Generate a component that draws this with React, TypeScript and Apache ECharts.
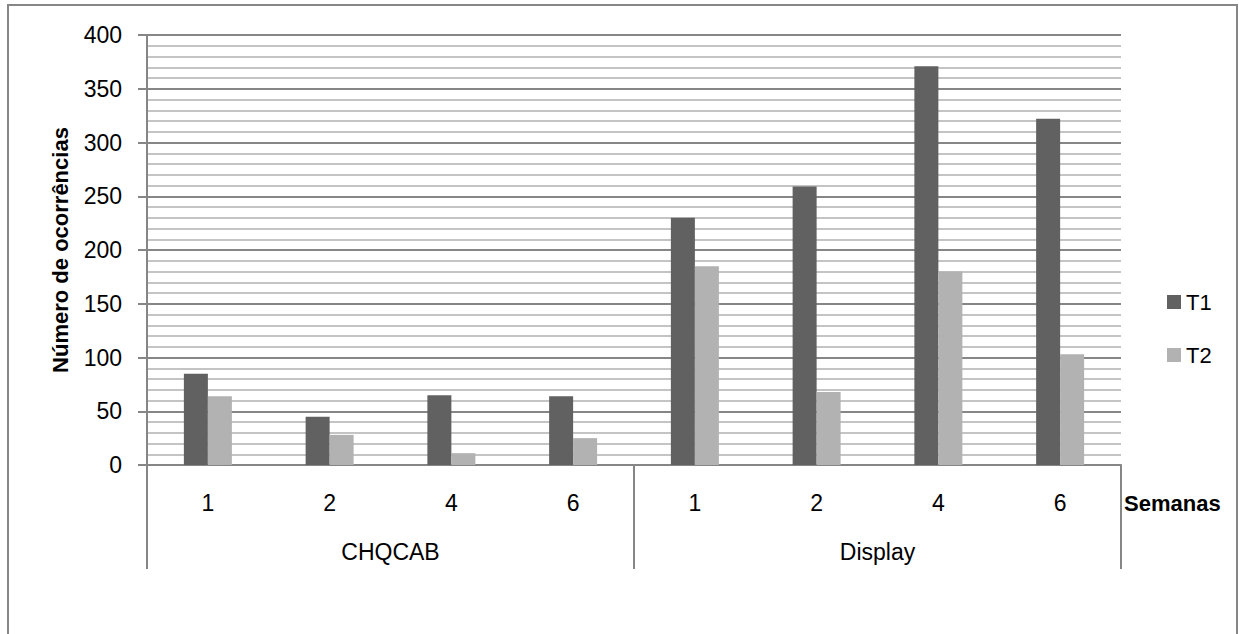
import React, { useEffect, useRef } from "react";
import * as echarts from "echarts";

const weeks = ["1", "2", "4", "6", "1", "2", "4", "6"];
const groups = ["CHQCAB", "Display"];
const t1Values = [85, 45, 65, 64, 230, 259, 371, 322];
const t2Values = [64, 28, 11, 25, 185, 68, 180, 103];
const seriesNames = ["T1", "T2"];

const FONT = "'Liberation Sans', Arial, sans-serif";
const AXIS_GRAY = "#868686";

export default function App() {
  const ref = useRef<HTMLDivElement>(null);
  useEffect(() => {
    if (!ref.current) return;
    const chart = echarts.init(ref.current, undefined, { renderer: "svg" });
    chart.setOption({
      animation: false,
      backgroundColor: "#ffffff",
      textStyle: { fontFamily: FONT },
      grid: { left: 147, right: 118, top: 35, bottom: 169, containLabel: false },
      legend: {
        orient: "vertical",
        left: 1162,
        top: 286,
        itemWidth: 14,
        itemHeight: 14,
        itemGap: 31,
        icon: "rect",
        textStyle: { fontFamily: FONT, fontSize: 22, color: "#000" },
        data: seriesNames,
      },
      xAxis: [
        {
          type: "category",
          data: weeks,
          position: "bottom",
          name: "Semanas",
          nameLocation: "end",
          nameGap: 3,
          nameTextStyle: {
            fontFamily: FONT,
            fontSize: 22,
            fontWeight: "bold",
            color: "#000",
            align: "left",
            verticalAlign: "top",
            padding: [27, 0, 0, 0],
          },
          axisLine: { show: true, lineStyle: { color: AXIS_GRAY, width: 2 } },
          axisTick: { show: false },
          axisLabel: { interval: 0, margin: 26, fontSize: 23, color: "#000", fontFamily: FONT },
          splitLine: { show: false },
        },
        {
          type: "category",
          data: groups,
          position: "bottom",
          axisLine: { show: false },
          axisTick: { show: true, interval: 0, length: 104, lineStyle: { color: AXIS_GRAY, width: 2 } },
          axisLabel: { interval: 0, margin: 75, fontSize: 23, color: "#000", fontFamily: FONT },
          splitLine: { show: false },
        },
      ],
      yAxis: {
        type: "value",
        min: 0,
        max: 400,
        interval: 50,
        name: "Número de ocorrências",
        nameLocation: "middle",
        nameRotate: 90,
        nameGap: 76,
        nameTextStyle: { fontFamily: FONT, fontSize: 22, fontWeight: "bold", color: "#000" },
        axisLine: { show: true, lineStyle: { color: AXIS_GRAY, width: 2 } },
        axisTick: { show: true, length: 9, lineStyle: { color: AXIS_GRAY, width: 2 } },
        axisLabel: { margin: 25, fontSize: 23, color: "#000", fontFamily: FONT },
        splitLine: { show: true, lineStyle: { color: AXIS_GRAY, width: 2 } },
        minorTick: { show: false, splitNumber: 5 },
        minorSplitLine: { show: true, lineStyle: { color: "#c4c4c4", width: 2 } },
      },
      series: [
        {
          name: seriesNames[0],
          type: "bar",
          xAxisIndex: 0,
          data: t1Values,
          barWidth: 24,
          barGap: "0%",
          itemStyle: { color: "#616161" },
        },
        {
          name: seriesNames[1],
          type: "bar",
          xAxisIndex: 0,
          data: t2Values,
          barWidth: 24,
          barGap: "0%",
          itemStyle: { color: "#b2b2b2" },
        },
      ],
      graphic: [
        {
          type: "rect",
          silent: true,
          shape: { x: 8, y: 5, width: 1229, height: 660 },
          style: { fill: "none", stroke: AXIS_GRAY, lineWidth: 2 },
        },
      ],
    });
    return () => chart.dispose();
  }, []);
  return (
    <div
      ref={ref}
      style={{ position: "fixed", left: 0, top: 0, width: 1239, height: 634 }}
    />
  );
}
